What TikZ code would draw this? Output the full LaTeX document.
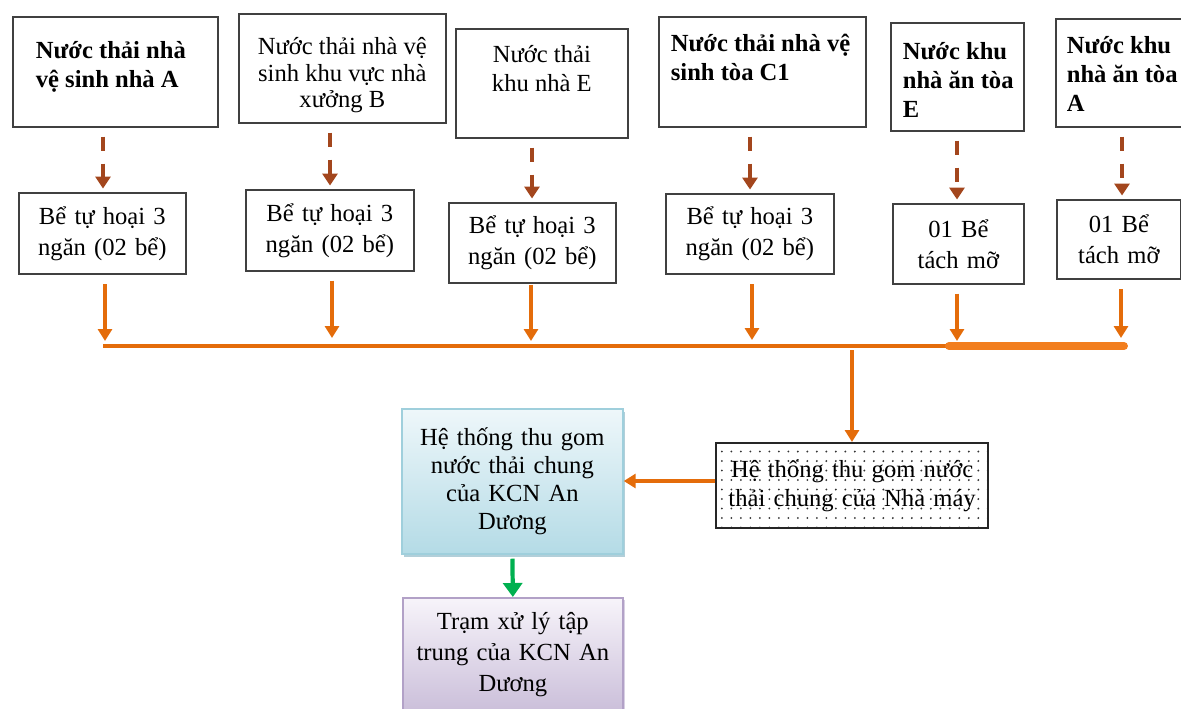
\documentclass[tikz,border=0pt]{standalone}
\usepackage{fontspec}
\setmainfont{Liberation Serif}
\usetikzlibrary{arrows.meta,patterns.meta,shadows}

\definecolor{frame}{HTML}{404040}
\definecolor{drip}{HTML}{A3461D}
\definecolor{pipe}{HTML}{E46C0A}
\definecolor{pipebold}{HTML}{F27E1E}
\definecolor{outflow}{HTML}{00B050}
\definecolor{bluetop}{HTML}{EEF7FA}
\definecolor{bluebot}{HTML}{B4DBE6}
\definecolor{blueedge}{HTML}{9FCFDC}
\definecolor{blueshade}{HTML}{7FAFBF}
\definecolor{lilactop}{HTML}{F7F4FA}
\definecolor{lilacbot}{HTML}{CBBFDA}
\definecolor{lilacedge}{HTML}{B2A1C7}

\begin{document}
\begin{tikzpicture}[x=0.02cm, y=-0.02cm,
  every node/.style={font=\fontsize{14pt}{16.4pt}\selectfont},
  box/.style={draw=frame, line width=1pt, fill=white, inner sep=0pt, anchor=north west},
  tank/.style={box, align=center, font=\fontsize{14pt}{17.6pt}\selectfont},
  drain/.style={draw=drip, line width=1.8pt, dash pattern=on 0.28cm off 0.26cm,
    -{Triangle[width=0.3cm,length=0.24cm]}, shorten <=0.18cm, shorten >=0.07cm},
  feed/.style={draw=pipe, line width=2.3pt, -{Triangle[width=0.28cm,length=0.24cm]}},
]
\useasboundingbox (0,0) rectangle (1181,708);

% ---- sources of waste water ----
\node[box, minimum width=4.10cm, minimum height=2.20cm] (t1) at (12,16)
  {\hspace*{0.46cm}\parbox[c][2.20cm][t]{3.64cm}{\vspace*{0.43cm}\raggedright\bfseries\strut Nước thải nhà\\vệ sinh nhà A}};
\node[box, minimum width=4.14cm, minimum height=2.18cm] (t2) at (238,13)
  {\parbox[c][2.18cm][t]{4.14cm}{\vspace*{0.45cm}\centering\fontsize{14pt}{15pt}\selectfont\strut Nước thải nhà vệ\\sinh khu vực nhà\\xưởng B}};
\node[box, minimum width=3.44cm, minimum height=2.18cm] (t3) at (455,28)
  {\parbox[c][2.18cm][t]{3.44cm}{\vspace*{0.27cm}\centering\strut Nước thải\\khu nhà E}};
\node[box, minimum width=4.14cm, minimum height=2.20cm] (t4) at (658,16)
  {\hspace*{0.24cm}\parbox[c][2.20cm][t]{3.90cm}{\vspace*{0.29cm}\raggedright\bfseries\strut Nước thải nhà vệ\\sinh tòa C1}};
\node[box, minimum width=2.66cm, minimum height=2.16cm] (t5) at (890,22)
  {\hspace*{0.24cm}\parbox[c][2.16cm][t]{2.42cm}{\vspace*{0.33cm}\raggedright\bfseries\strut Nước khu\\nhà ăn tòa\\E}};
\node[box, minimum width=2.60cm, minimum height=2.16cm] (t6) at (1055,18)
  {\hspace*{0.22cm}\parbox[c][2.16cm][t]{2.38cm}{\vspace*{0.29cm}\raggedright\bfseries\strut Nước khu\\nhà ăn tòa\\A}};

% ---- pre-treatment tanks ----
\node[tank, text width=3.34cm, minimum height=1.62cm] (s1) at (18,192) {Bể tự hoại 3\\ngăn (02 bể)};
\node[tank, text width=3.36cm, minimum height=1.62cm] (s2) at (245,189) {Bể tự hoại 3\\ngăn (02 bể)};
\node[tank, text width=3.34cm, minimum height=1.60cm] (s3) at (448,202) {Bể tự hoại 3\\ngăn (02 bể)};
\node[tank, text width=3.36cm, minimum height=1.60cm] (s4) at (665,193) {Bể tự hoại 3\\ngăn (02 bể)};
\node[tank, text width=2.62cm, minimum height=1.60cm] (s5) at (892,203) {01 Bể\\tách mỡ};
\node[tank, text width=2.48cm, minimum height=1.58cm] (s6) at (1056,199) {01 Bể\\tách mỡ};

% ---- collection systems ----
\node[box, draw=black!85, line width=1.3pt, pattern={Dots[radius=0.6pt, distance=0.19cm]},
  pattern color=black!80, text width=5.44cm, align=center, minimum height=1.70cm,
  font=\fontsize{14pt}{16.4pt}\selectfont] (d1) at (715,442)
  {Hệ thống thu gom nước\\thải chung của Nhà máy};
\node[box, draw=blueedge, top color=bluetop, bottom color=bluebot,
  drop shadow={shadow xshift=0.05cm, shadow yshift=-0.06cm, opacity=0.6, fill=blueshade},
  text width=4.42cm, align=center, minimum height=2.90cm,
  font=\fontsize{14pt}{15.9pt}\selectfont] (b1) at (401,408)
  {Hệ thống thu gom\\nước thải chung\\của KCN An\\Dương};
\node[box, draw=lilacedge, top color=lilactop, bottom color=lilacbot,
  drop shadow={shadow xshift=0.05cm, shadow yshift=-0.05cm, opacity=0.5, fill=lilacedge},
  text width=4.40cm, align=center, minimum height=2.26cm,
  font=\fontsize{14pt}{17.6pt}\selectfont] (p1) at (402,597)
  {Trạm xử lý tập\\trung của KCN An\\Dương};

% ---- reference points ----
\coordinate (da) at (103,0);  \coordinate (db) at (330,0);  \coordinate (dc) at (532,0);
\coordinate (dd) at (750,0);  \coordinate (de) at (957,0);  \coordinate (df) at (1122,0);
\coordinate (j1) at (105,346); \coordinate (j2) at (332,346); \coordinate (j3) at (531,346);
\coordinate (j4) at (752,346); \coordinate (j5) at (957,346); \coordinate (j6) at (1121,346);
\coordinate (jm) at (852,346);
\coordinate (mainL) at (103,346); \coordinate (mainK) at (949,346); \coordinate (mainR) at (1124,346);
\coordinate (hz) at (0,481);

% ---- dashed feeds into the tanks ----
\draw[drain] (t1.south -| da) -- (s1.north -| da);
\draw[drain] (t2.south -| db) -- (s2.north -| db);
\draw[drain] (t3.south -| dc) -- (s3.north -| dc);
\draw[drain] (t4.south -| dd) -- (s4.north -| dd);
\draw[drain] (t5.south -| de) -- (s5.north -| de);
\draw[drain] (t6.south -| df) -- (s6.north -| df);

% ---- main collector ----
\draw[draw=pipe, line width=2.8pt] (mainL) -- (mainK);
\draw[draw=pipebold, line width=4.5pt, line cap=round] (mainK) -- (mainR);

\draw[feed, shorten <=0.19cm, shorten >=0.1cm] (s1.south -| j1) -- (j1);
\draw[feed, shorten <=0.18cm, shorten >=0.16cm] (s2.south -| j2) -- (j2);
\draw[feed, shorten <=0.02cm, shorten >=0.1cm] (s3.south -| j3) -- (j3);
\draw[feed, shorten <=0.19cm, shorten >=0.12cm] (s4.south -| j4) -- (j4);
\draw[feed, shorten <=0.18cm, shorten >=0.1cm] (s5.south -| j5) -- (j5);
\draw[feed, shorten <=0.19cm, shorten >=0.16cm] (s6.south -| j6) -- (j6);

\draw[feed, shorten <=0.08cm] (jm) -- (d1.north -| jm);
\draw[feed] (d1.west |- hz) -- (b1.east |- hz);
\draw[draw=outflow, line width=2.4pt, -{Triangle[width=0.38cm,length=0.28cm]}, shorten <=0.08cm]
  (b1.south) -- (p1.north);
\end{tikzpicture}
\end{document}
